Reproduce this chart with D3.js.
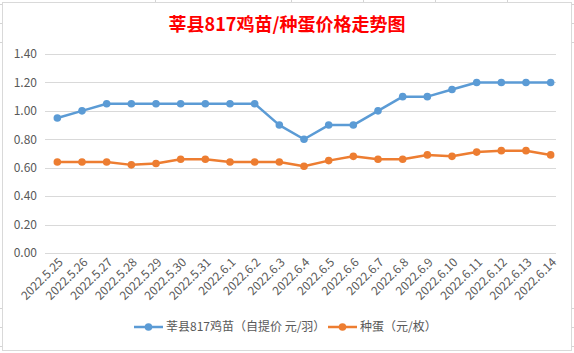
<!DOCTYPE html>
<html>
<head>
<meta charset="utf-8">
<script src="https://cdn.jsdelivr.net/npm/d3@7.9.0/dist/d3.min.js"></script>
<style>
  body { margin: 0; background: #fff; }
</style>
</head>
<body>
<svg id="chart"></svg>
<script>
// data
const dates = ["2022.5.25", "2022.5.26", "2022.5.27", "2022.5.28", "2022.5.29", "2022.5.30", "2022.5.31",
  "2022.6.1", "2022.6.2", "2022.6.3", "2022.6.4", "2022.6.5", "2022.6.6", "2022.6.7", "2022.6.8",
  "2022.6.9", "2022.6.10", "2022.6.11", "2022.6.12", "2022.6.13", "2022.6.14"];
const chickPrice = [0.95, 1.00, 1.05, 1.05, 1.05, 1.05, 1.05, 1.05, 1.05, 0.90, 0.80,
  0.90, 0.90, 1.00, 1.10, 1.10, 1.15, 1.20, 1.20, 1.20, 1.20];
const eggPrice = [0.64, 0.64, 0.64, 0.62, 0.63, 0.66, 0.66, 0.64, 0.64, 0.64, 0.61,
  0.65, 0.68, 0.66, 0.66, 0.69, 0.68, 0.71, 0.72, 0.72, 0.69];
const yTicks = [0, 0.2, 0.4, 0.6, 0.8, 1.0, 1.2, 1.4];
const seriesNames = ["莘县817鸡苗（自提价 元/羽）", "种蛋（元/枚）"];
const colors = ["#5B9BD5", "#ED7D31"];

const W = 574, H = 353;
const margin = { top: 54, right: 18, bottom: 100, left: 45 };

const svg = d3.select("#chart").attr("width", W).attr("height", H);

// spreadsheet grid peeking out around the chart frame
const sheet = svg.append("g").attr("stroke", "#d4d4d4").attr("stroke-width", 1);
[4, 23, 42, 308, 327, 346].forEach(y => {
  sheet.append("line").attr("x1", 0).attr("x2", 2).attr("y1", y + 0.5).attr("y2", y + 0.5);
  sheet.append("line").attr("x1", 572).attr("x2", 574).attr("y1", y + 0.5).attr("y2", y + 0.5);
});
[155, 291, 363, 435, 507].forEach(x => {
  sheet.append("line").attr("x1", x + 0.5).attr("x2", x + 0.5).attr("y1", 0).attr("y2", 2);
});

// chart frame
svg.append("rect")
  .attr("x", 2.5).attr("y", 2.5)
  .attr("width", 569).attr("height", 348)
  .attr("fill", "#fff")
  .attr("stroke", "#d9d9d9");

// title
svg.append("text")
  .attr("x", 287).attr("y", 31)
  .attr("text-anchor", "middle")
  .attr("fill", "#ff0000")
  .style("font-family", "'Noto Sans CJK SC', sans-serif")
  .style("font-weight", "bold")
  .style("font-size", "18px")
  .text("莘县817鸡苗/种蛋价格走势图");

const x = d3.scalePoint()
  .domain(dates)
  .range([margin.left, W - margin.right + 7])
  .padding(0.5);

const y = d3.scaleLinear()
  .domain([0, 1.4])
  .range([253, margin.top]);

// gridlines
svg.append("g")
  .selectAll("line")
  .data(yTicks)
  .join("line")
  .attr("x1", margin.left)
  .attr("x2", 556)
  .attr("y1", d => Math.round(y(d)) + 0.5)
  .attr("y2", d => Math.round(y(d)) + 0.5)
  .attr("stroke", "#d9d9d9")
  .attr("stroke-width", 1);

// y axis labels
const yAxis = svg.append("g")
  .attr("transform", `translate(${margin.left - 8},0)`)
  .call(d3.axisLeft(y).tickValues(yTicks).tickFormat(d3.format(".2f")).tickSize(0).tickPadding(0));
yAxis.select(".domain").remove();
yAxis.selectAll("text")
  .attr("fill", "#595959")
  .style("font-family", "'Noto Sans CJK SC', sans-serif")
  .style("font-size", "12px");

// x axis labels, rotated
const xAxis = svg.append("g")
  .attr("transform", "translate(0,253)")
  .call(d3.axisBottom(x).tickSize(0).tickPadding(0));
xAxis.select(".domain").remove();
xAxis.selectAll("text")
  .attr("fill", "#595959")
  .style("font-family", "'Noto Sans CJK SC', sans-serif")
  .style("font-size", "12px")
  .attr("text-anchor", "end")
  .attr("dy", null)
  .attr("y", 0)
  .attr("transform", "translate(6,10) rotate(-45)");

// lines and markers
const series = [chickPrice, eggPrice];
const line = d3.line().x((d, i) => x(dates[i])).y(d => y(d));

series.forEach((vals, s) => {
  svg.append("path")
    .datum(vals)
    .attr("d", line)
    .attr("fill", "none")
    .attr("stroke", colors[s])
    .attr("stroke-width", 2.5)
    .attr("stroke-linejoin", "round");
  svg.append("g")
    .selectAll("circle")
    .data(vals)
    .join("circle")
    .attr("cx", (d, i) => x(dates[i]))
    .attr("cy", d => y(d))
    .attr("r", 3.8)
    .attr("fill", colors[s]);
});

// legend
const legendItems = [
  { x: 134, name: seriesNames[0], color: colors[0] },
  { x: 328, name: seriesNames[1], color: colors[1] }
];
const legend = svg.append("g").attr("transform", "translate(0,327)");
legendItems.forEach(item => {
  legend.append("line")
    .attr("x1", item.x).attr("x2", item.x + 29)
    .attr("y1", 0).attr("y2", 0)
    .attr("stroke", item.color).attr("stroke-width", 2.5);
  legend.append("circle")
    .attr("cx", item.x + 14.5).attr("cy", 0).attr("r", 3.8)
    .attr("fill", item.color);
  legend.append("text")
    .attr("x", item.x + 32).attr("y", 0)
    .attr("dy", "0.35em")
    .attr("fill", "#595959")
    .style("font-family", "'Noto Sans CJK SC', sans-serif")
    .style("font-size", "12px")
    .text(item.name);
});
</script>
</body>
</html>
